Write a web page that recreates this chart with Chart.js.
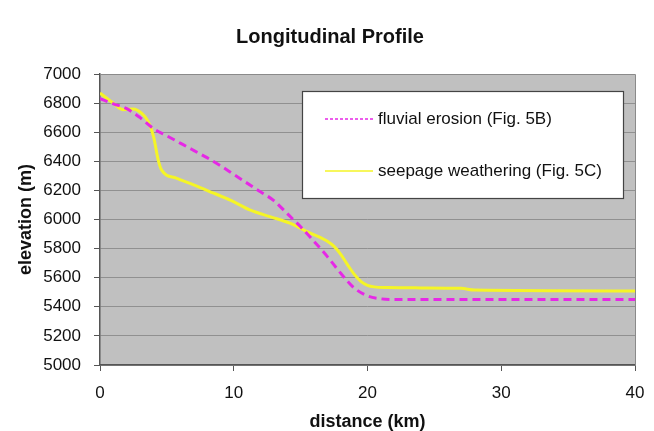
<!DOCTYPE html>
<html>
<head>
<meta charset="utf-8">
<script src="https://cdn.jsdelivr.net/npm/chart.js@4/dist/chart.umd.min.js"></script>
<style>
  html, body { margin: 0; padding: 0; background: #fff; }
  #wrap { width: 654px; height: 431px; }
</style>
</head>
<body>
<div id="wrap"><canvas id="perfil"></canvas></div>
<script>
  const titulo = 'Longitudinal Profile';
  const ejeX = 'distance (km)';
  const ejeY = 'elevation (m)';

  const fluvKm   = [0, 1, 2, 3, 4, 5, 6, 7, 8, 9, 10, 11, 12, 13, 14, 15, 16, 17, 18, 19, 20, 21, 22, 30, 40];
  const fluvElev = [6830, 6795, 6762, 6700, 6625, 6575, 6525, 6475, 6425, 6370, 6310, 6250, 6190, 6130, 6040, 5950, 5850, 5745, 5630, 5530, 5475, 5455, 5450, 5450, 5450];

  const seepKm   = [0, 1, 1.7, 2.5, 3.1, 3.6, 4.0, 4.35, 4.6, 5.7, 7, 8.5, 9.7, 11.2, 12.7, 14.2, 15.4, 16.5, 17, 17.5, 18, 18.5, 19, 19.5, 20, 20.5, 21.5, 24, 27, 28, 40];
  const seepElev = [6869, 6800, 6755, 6760, 6731, 6674, 6571, 6410, 6341, 6284, 6238, 6181, 6135, 6066, 6020, 5975, 5920, 5875, 5850, 5815, 5760, 5690, 5625, 5575, 5548, 5537, 5532, 5530, 5527, 5515, 5509];

  const series = [
    { label: 'fluvial erosion (Fig. 5B)', km: fluvKm, elev: fluvElev, color: '#e628e6', dash: [8, 5] },
    { label: 'seepage weathering (Fig. 5C)', km: seepKm, elev: seepElev, color: '#f5f526', dash: [] },
  ];

  const fuente = "'Liberation Sans', Arial, sans-serif";

  // fondo gris del area de trazado + marco + titulo
  const fondo = {
    id: 'fondo',
    beforeDraw(chart) {
      const { ctx, chartArea: a } = chart;
      ctx.save();
      ctx.fillStyle = '#c0c0c0';
      ctx.fillRect(a.left, a.top, a.right - a.left, a.bottom - a.top);
      ctx.fillStyle = '#111';
      ctx.font = 'bold 20px ' + fuente;
      ctx.textAlign = 'center';
      ctx.textBaseline = 'middle';
      ctx.fillText(titulo, 330, 37);
      ctx.restore();
    },
    afterDatasetsDraw(chart) {
      const { ctx, chartArea: a } = chart;
      ctx.save();
      ctx.strokeStyle = '#8a8a8a';
      ctx.lineWidth = 1;
      ctx.beginPath();
      ctx.moveTo(a.left, a.top + 0.5); ctx.lineTo(a.right + 0.5, a.top + 0.5); ctx.lineTo(a.right + 0.5, a.bottom);
      ctx.stroke();
      ctx.restore();
    }
  };

  // leyenda dentro del grafico, como en el original
  const leyenda = {
    id: 'leyenda',
    afterDraw(chart) {
      const { ctx, chartArea: a } = chart;
      const x = a.left + 202, y = a.top + 17, w = 321, h = 107;
      ctx.save();
      ctx.fillStyle = '#fff';
      ctx.fillRect(x, y, w, h);
      ctx.strokeStyle = '#444';
      ctx.lineWidth = 1.2;
      ctx.strokeRect(x + 0.5, y + 0.5, w, h);
      ctx.font = '17px ' + fuente;
      ctx.fillStyle = '#111';
      ctx.textBaseline = 'middle';
      chart.data.datasets.forEach((ds, i) => {
        const cy = y + 28 + i * 52;
        ctx.strokeStyle = ds.borderColor;
        ctx.lineWidth = 1.5;
        ctx.setLineDash(ds.borderDash.length ? [3, 2] : []);
        ctx.beginPath();
        ctx.moveTo(x + 23, cy); ctx.lineTo(x + 71, cy);
        ctx.stroke();
        ctx.setLineDash([]);
        ctx.fillText(ds.label, x + 76, cy);
      });
      ctx.restore();
    }
  };

  new Chart(document.getElementById('perfil'), {
    type: 'line',
    data: {
      datasets: series.map((s) => ({
        label: s.label,
        data: s.km.map((k, i) => ({ x: k, y: s.elev[i] })),
        borderColor: s.color,
        borderDash: s.dash,
        borderWidth: 3,
        pointRadius: 0,
        fill: false,
        cubicInterpolationMode: 'monotone',
      })),
    },
    options: {
      responsive: true,
      maintainAspectRatio: false,
      animation: false,
      layout: { padding: { left: 0, right: 19, top: 74, bottom: 0 } },
      plugins: {
        legend: { display: false },
        tooltip: { enabled: false },
        title: { display: false },
      },
      scales: {
        x: {
          type: 'linear', min: 0, max: 40,
          ticks: { stepSize: 10, color: '#111', padding: 12, font: { family: fuente, size: 17 }, callback: (v) => String(v) },
          grid: { display: true, drawOnChartArea: false, tickLength: 6, tickColor: '#555' },
          border: { color: '#555', width: 1.5 },
          title: { display: true, text: ejeX, color: '#111', font: { family: fuente, size: 18, weight: 'bold', lineHeight: 1 }, padding: { top: 0, bottom: 0 } },
          afterFit(s) { s.height = 66; s.paddingRight = 0; s.paddingLeft = 0; },
        },
        y: {
          min: 5000, max: 7000,
          ticks: { stepSize: 200, color: '#111', padding: 13, font: { family: fuente, size: 17 }, callback: (v) => String(v) },
          grid: { color: '#909090', tickLength: 6, tickColor: '#555' },
          border: { color: '#555', width: 1.5 },
          title: { display: true, text: ejeY, color: '#111', font: { family: fuente, size: 18, weight: 'bold' }, padding: { top: 15, bottom: 0 } },
          afterFit(s) { s.width = 100; s.paddingTop = 0; s.paddingBottom = 0; },
        },
      },
    },
    plugins: [fondo, leyenda],
  });
</script>
</body>
</html>
